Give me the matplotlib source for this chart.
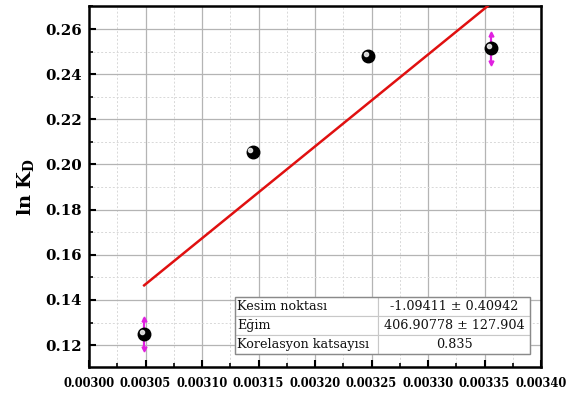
import matplotlib
matplotlib.use("Agg")
import matplotlib.pyplot as plt
import matplotlib.transforms as mtransforms
import numpy as np
from matplotlib.ticker import MultipleLocator, FormatStrFormatter

plt.rcParams["mathtext.fontset"] = "dejavuserif"

# 1/T values (K^-1) and ln KD
inv_T = [0.0030488, 0.0031447, 0.0032468, 0.0033557]
ln_kd = [0.1249, 0.2056, 0.2482, 0.2514]
ln_kd_err = [0.0065, 0.0, 0.0, 0.0066]

# Linear fit parameters
intercept = -1.09411
intercept_err = 0.40942
slope = 406.90778
slope_err = 127.904
corr = 0.835

table_rows = ["Kesim noktası", "Eğim", "Korelasyon katsayısı"]
table_vals = [f"{intercept:.5f} \u00b1 {intercept_err:.5f}",
              f"{slope:.5f} \u00b1 {slope_err:.3f}",
              f"{corr:.3f}"]

x_ticks = [0.00300, 0.00305, 0.00310, 0.00315, 0.00320, 0.00325, 0.00330, 0.00335, 0.00340]
y_ticks = [0.12, 0.14, 0.16, 0.18, 0.20, 0.22, 0.24, 0.26]

fig = plt.figure(figsize=(5.81, 3.94), dpi=100)
ax = fig.add_axes([0.1532, 0.0685, 0.778, 0.9163])

ax.set_xlim(0.00300, 0.00340)
ax.set_ylim(0.1103, 0.2702)

ax.set_xticks(x_ticks)
ax.set_yticks(y_ticks)
ax.xaxis.set_major_formatter(FormatStrFormatter("%.5f"))
ax.yaxis.set_major_formatter(FormatStrFormatter("%.2f"))
ax.xaxis.set_minor_locator(MultipleLocator(0.000025))
ax.yaxis.set_minor_locator(MultipleLocator(0.01))

ax.grid(which="major", color="#b4b4b4", lw=0.9, ls="-", zorder=0)
ax.grid(which="minor", color="#d8d8d8", lw=0.7, ls=(0, (2, 2)), zorder=0)
ax.set_axisbelow(True)

for s in ax.spines.values():
    s.set_linewidth(1.8)
    s.set_color("black")

ax.tick_params(which="major", direction="in", length=5, width=1.5)
ax.tick_params(which="minor", direction="in", length=3, width=1.2)
ax.tick_params(axis="x", which="major", pad=7)
ax.tick_params(axis="y", which="major", pad=5)

for lab in ax.get_xticklabels():
    lab.set_fontfamily("DejaVu Serif")
    lab.set_fontweight("bold")
    lab.set_fontsize(8.3)
for lab in ax.get_yticklabels():
    lab.set_fontfamily("DejaVu Serif")
    lab.set_fontweight("bold")
    lab.set_fontsize(10.8)

ax.set_ylabel(r"$\mathbf{ln\ K_D}$", fontsize=14, family="DejaVu Serif", labelpad=7)

# Fit line across the data range
xf = np.array([inv_T[0], inv_T[-1]])
ax.plot(xf, intercept + slope * xf, color="#e01010", lw=1.8, zorder=3)

# Error bars with arrow-like caps
for x, y, e in zip(inv_T, ln_kd, ln_kd_err):
    if e > 0:
        ax.plot([x, x], [y - e, y + e], color="#e020e0", lw=1.6, zorder=4)
        ax.plot([x], [y + e], marker="^", color="#e020e0", ms=3.5, zorder=4)
        ax.plot([x], [y - e], marker="v", color="#e020e0", ms=3.5, zorder=4)

# Spherical markers: black ball with a small highlight
ax.plot(inv_T, ln_kd, ls="none", marker="o", ms=9, color="black", zorder=5)
hl = mtransforms.offset_copy(ax.transData, fig=fig, x=-1.5, y=1.5, units="points")
ax.plot(inv_T, ln_kd, ls="none", marker="o", ms=3, color="#e8e8e8", alpha=0.9,
        transform=hl, zorder=6)

# Fit statistics table
cell_text = [[r, v] for r, v in zip(table_rows, table_vals)]
tbl = ax.table(cellText=cell_text, bbox=[0.323, 0.036, 0.653, 0.158],
               colWidths=[0.485, 0.515], zorder=7)
tbl.auto_set_font_size(False)
for (r, c), cell in tbl.get_celld().items():
    cell.set_edgecolor("#c8c8c8")
    cell.set_linewidth(0.8)
    cell.set_facecolor("white")
    t = cell.get_text()
    t.set_fontfamily("DejaVu Serif")
    t.set_fontsize(9.2)
    t.set_color("#111111")
    if c == 0:
        t.set_ha("left")
        cell.PAD = 0.015
    else:
        t.set_ha("center")

# Outer border of the table in a darker grey
ax.add_patch(plt.Rectangle((0.323, 0.036), 0.653, 0.158, transform=ax.transAxes,
                           fill=False, edgecolor="#8a8a8a", lw=1.0, zorder=8))

fig.savefig("out.png", dpi=100)
